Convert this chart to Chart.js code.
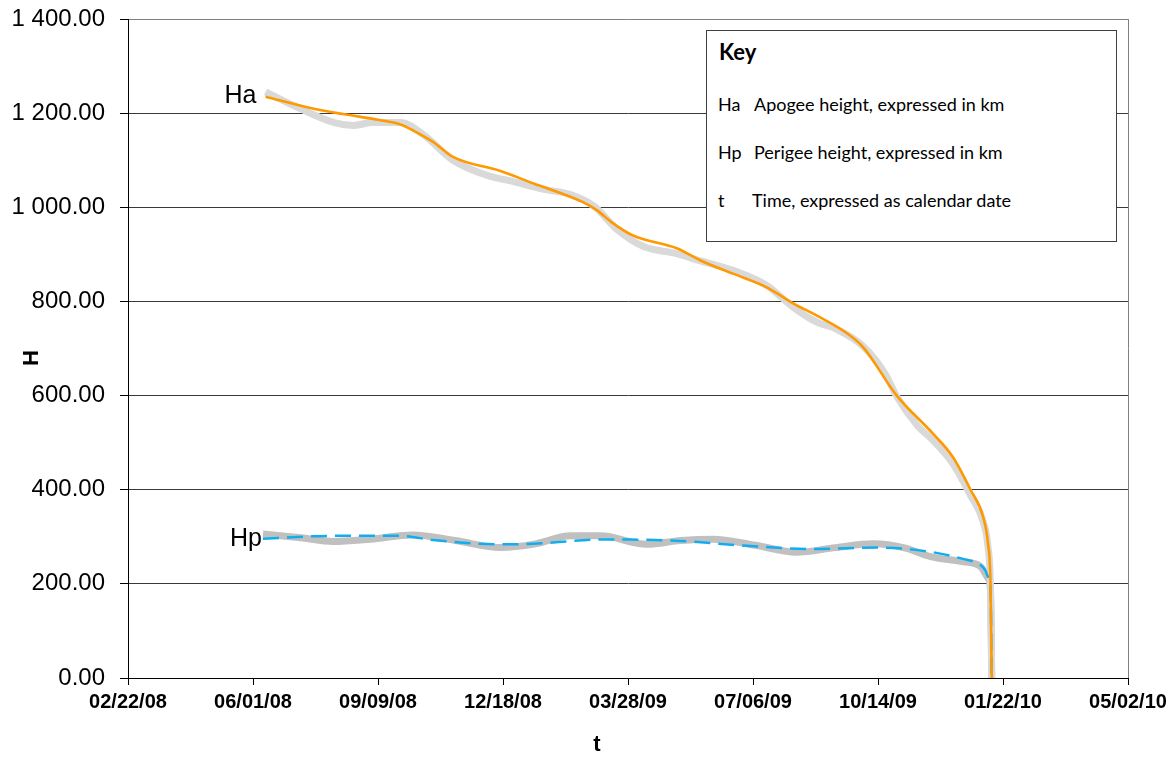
<!DOCTYPE html>
<html>
<head>
<meta charset="utf-8">
<script src="https://cdn.jsdelivr.net/npm/chart.js@4/dist/chart.umd.min.js"></script>
<style>
html,body{margin:0;padding:0;background:#fff;}
#wrap{position:relative;width:1175px;height:758px;overflow:hidden;}
#c{position:absolute;left:0;top:0;}
#key{position:absolute;left:706px;top:30px;width:411px;height:212px;box-sizing:border-box;border:1px solid #404040;background:#fff;font-family:Lato,"Open Sans",sans-serif;font-size:18px;color:#000;}
#key span{position:absolute;white-space:nowrap;line-height:20px;}
</style>
</head>
<body>
<div id="wrap">
<canvas id="c" width="1175" height="758"></canvas>
<div id="key">
  <span style="left:12px;top:11px;font-weight:bold;font-size:22px;">Key</span>
  <span style="left:11px;top:63px;">Ha</span><span style="left:47px;top:63px;">Apogee height, expressed in km</span>
  <span style="left:11px;top:111px;">Hp</span><span style="left:47px;top:111px;">Perigee height, expressed in km</span>
  <span style="left:11px;top:159px;">t</span><span style="left:45px;top:159px;">Time, expressed as calendar date</span>
</div>
</div>
<script>
// ---- data ----
const xTickDates = ['2008-02-22','2008-06-01','2008-09-09','2008-12-18','2009-03-28','2009-07-06','2009-10-14','2010-01-22','2010-05-02'];
const yTickValues = [0,200,400,600,800,1000,1200,1400];

// Apogee height, smoothed (orange)
const haDates  = ['2008-06-11','2008-07-17','2008-08-12','2008-09-09','2008-09-27','2008-10-08','2008-10-23','2008-11-08','2008-12-16','2009-01-11','2009-02-20','2009-03-03','2009-03-15','2009-04-01','2009-05-06','2009-05-25','2009-06-20','2009-07-17','2009-08-07','2009-08-26','2009-09-16','2009-10-02','2009-10-29','2009-11-27','2009-12-13','2009-12-27','2010-01-06','2010-01-10','2010-01-12','2010-01-13'];
const haValues = [1235,1211,1198,1186,1176,1162,1139,1107,1077,1051,1011,994,968,940,913,887,859,830,796,770,738,703,600,519,469,400,343,285,200,0];

// Apogee height, raw oscillating (grey)
const haRawDates  = ['2008-06-11','2008-07-10','2008-08-05','2008-08-20','2008-09-05','2008-09-27','2008-10-15','2008-11-08','2008-12-05','2008-12-24','2009-01-20','2009-02-10','2009-03-01','2009-03-20','2009-04-10','2009-05-05','2009-05-25','2009-06-20','2009-07-17','2009-08-07','2009-08-26','2009-09-10','2009-10-02','2009-10-20','2009-10-29','2009-11-15','2009-11-27','2009-12-13','2009-12-27','2010-01-06','2010-01-10','2010-01-12','2010-01-13'];
const haRawValues = [1245,1208,1180,1174,1180,1180,1155,1100,1068,1056,1038,1027,1002,951,916,902,886,866,834,788,756,742,705,645,598,535,505,455,388,333,278,190,0];

// Perigee height, smoothed (blue dashed)
const hpDates  = ['2008-06-09','2008-08-04','2008-09-27','2008-10-23','2008-12-16','2009-01-11','2009-03-06','2009-03-30','2009-05-09','2009-07-01','2009-08-23','2009-10-16','2009-11-25','2009-12-21','2010-01-04','2010-01-08','2010-01-10','2010-01-12','2010-01-13'];
const hpValues = [296,302,302,293,284,285,294,294,291,281,274,277,268,253,240,228,215,190,0];

// Perigee height, raw oscillating (grey)
const hpRawDates  = ['2008-06-09','2008-07-09','2008-08-04','2008-09-03','2008-10-07','2008-11-10','2008-12-16','2009-01-13','2009-02-10','2009-03-06','2009-04-12','2009-05-09','2009-06-04','2009-07-08','2009-08-10','2009-09-10','2009-10-10','2009-11-05','2009-11-25','2009-12-21','2010-01-04','2010-01-10','2010-01-12','2010-01-13'];
const hpRawValues = [306,298,290,295,304,292,277,285,302,302,284,292,295,282,267,277,285,276,258,247,237,212,185,0];

// ---- helpers ----
const DAY = 86400000;
function toDay(s){ const p = s.split('-').map(Number); return Date.UTC(p[0], p[1]-1, p[2]) / DAY; }
function fmtDate(d){ const t = new Date(Math.round(d) * DAY); const mm = String(t.getUTCMonth()+1).padStart(2,'0'); const dd = String(t.getUTCDate()).padStart(2,'0'); const yy = String(t.getUTCFullYear()%100).padStart(2,'0'); return mm + '/' + dd + '/' + yy; }
function fmtNum(v){ const s = Number(v).toFixed(2); const [i,f] = s.split('.'); return i.replace(/\B(?=(\d{3})+(?!\d))/g, ' ') + '.' + f; }
function pts(dates, vals){ return dates.map((d,i) => ({x: toDay(d), y: vals[i]})); }

const xMin = toDay(xTickDates[0]);
const xMax = toDay(xTickDates[xTickDates.length-1]);
const FONT = '"Liberation Sans", Arial, sans-serif';

const textPlugin = {
  id: 'textPlugin',
  afterDatasetsDraw(chart, args, opts) {
    const ctx = chart.ctx;
    ctx.save();
    ctx.fillStyle = '#000';
    // series labels next to the first point of each series
    ctx.font = '25px ' + FONT;
    ctx.textAlign = 'right';
    ctx.textBaseline = 'alphabetic';
    opts.series.forEach(it => {
      const p = chart.getDatasetMeta(it.dataset).data[0];
      ctx.fillText(it.text, p.x + it.dx, p.y + it.dy);
    });
    // axis titles
    ctx.font = 'bold 22px ' + FONT;
    ctx.textAlign = 'center';
    ctx.textBaseline = 'middle';
    ctx.fillText(opts.xTitle.text, opts.xTitle.x, opts.xTitle.y);
    ctx.translate(opts.yTitle.x, opts.yTitle.y);
    ctx.rotate(-Math.PI / 2);
    ctx.fillText(opts.yTitle.text, 0, 0);
    ctx.restore();
  }
};

new Chart(document.getElementById('c'), {
  type: 'line',
  data: {
    datasets: [
      { label: 'Ha', data: pts(haDates, haValues), borderColor: '#ff9900', borderWidth: 2.6, pointRadius: 0, cubicInterpolationMode: 'monotone', order: 0 },
      { label: 'Hp', data: pts(hpDates, hpValues), borderColor: '#10aef0', borderWidth: 2.5, borderDash: [16, 8], pointRadius: 0, cubicInterpolationMode: 'monotone', order: 0 },
      { label: 'Ha raw', data: pts(haRawDates, haRawValues), borderColor: '#d9d9d9', borderWidth: 7, pointRadius: 0, cubicInterpolationMode: 'monotone', order: 1 },
      { label: 'Hp raw', data: pts(hpRawDates, hpRawValues), borderColor: '#c0c0c0', borderWidth: 7, pointRadius: 0, cubicInterpolationMode: 'monotone', order: 1 }
    ]
  },
  options: {
    responsive: false,
    animation: false,
    layout: { padding: { left: 0, right: 47, top: 19, bottom: 0 } },
    plugins: {
      legend: { display: false },
      tooltip: { enabled: false },
      textPlugin: {
        series: [ { dataset: 0, text: 'Ha', dx: -9, dy: 6 }, { dataset: 1, text: 'Hp', dx: -1, dy: 7 } ],
        xTitle: { text: 't', x: 597, y: 745 },
        yTitle: { text: 'H', x: 32, y: 358 }
      }
    },
    scales: {
      x: {
        type: 'linear',
        min: xMin, max: xMax,
        afterBuildTicks: s => { s.ticks = xTickDates.map(d => ({ value: toDay(d) })); },
        afterFit: s => { s.height = 80; s.paddingLeft = 0; s.paddingRight = 0; },
        ticks: { callback: v => fmtDate(v), font: { family: FONT, size: 20, weight: 'bold' }, color: '#000', padding: 5, maxRotation: 0, autoSkip: false },
        grid: { color: c => (c.tick && c.tick.value === xMax) ? '#808080' : 'rgba(0,0,0,0)', tickColor: '#000', tickLength: 7, lineWidth: 1 },
        border: { color: '#000', width: 1 }
      },
      y: {
        min: 0, max: 1400,
        afterBuildTicks: s => { s.ticks = yTickValues.map(v => ({ value: v })); },
        afterFit: s => { s.width = 128; s.paddingTop = 0; s.paddingBottom = 0; },
        ticks: { callback: v => fmtNum(v), font: { family: FONT, size: 24 }, color: '#000', padding: 15 },
        grid: { color: c => (c.tick && c.tick.value === 1400) ? '#808080' : '#3a3a3a', tickColor: '#000', tickLength: 8, lineWidth: 1 },
        border: { color: '#000', width: 1 }
      }
    }
  },
  plugins: [textPlugin]
});
</script>
</body>
</html>
